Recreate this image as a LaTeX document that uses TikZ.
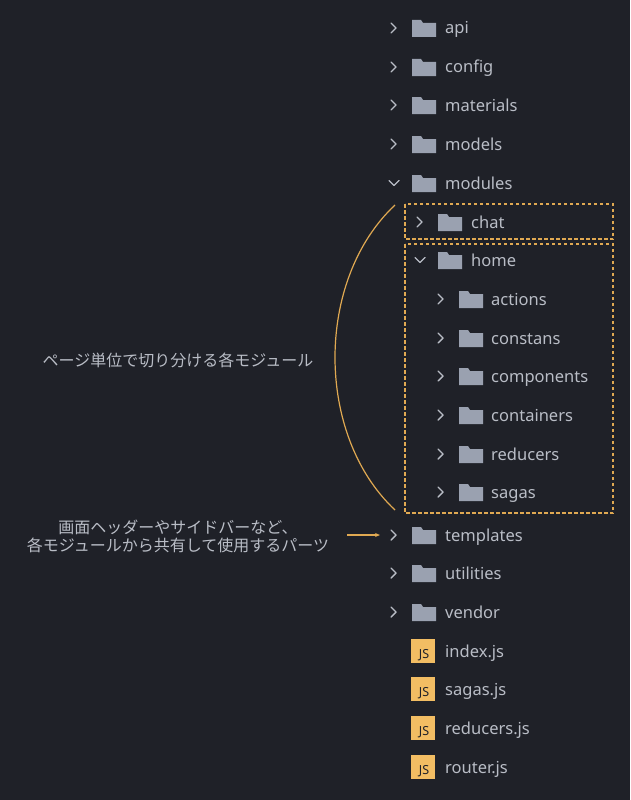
\documentclass[tikz,border=0pt]{standalone}
\usepackage{fontspec}
\setmainfont{Noto Sans}
\newfontfamily\cjk{Noto Sans CJK JP}
\usetikzlibrary{arrows.meta}
\definecolor{bg}{HTML}{1F2128}
\definecolor{txt}{HTML}{B9BDC6}
\definecolor{fold}{HTML}{9AA1B0}
\definecolor{acc}{HTML}{E0A952}
\definecolor{jsy}{HTML}{F2BD63}
\tikzset{
 lbl/.style={anchor=base west,text=txt,font=\fontsize{16.5}{19}\selectfont,inner sep=0pt,yshift=-6pt},
 chev/.style={draw=txt,line width=1.4pt,line cap=round,line join=round},
 box/.style={draw=acc,line width=1.2pt,dash pattern=on 3.5pt off 2.5pt},
 note/.style={text=txt,font=\cjk\fontsize{16}{18}\selectfont,align=center,inner sep=0pt}
}
\newcommand{\fold}[2]{% x y
 \fill[fold] (#1,#2-6) -- (#1,#2+9) -- (#1+24,#2+9) -- (#1+24,#2-5) -- (#1+11,#2-5) -- (#1+9,#2-8) -- (#1,#2-8) -- cycle;}
\newcommand{\cright}[2]{\draw[chev] (#1-3,#2-5) -- (#1+2,#2) -- (#1-3,#2+5);}
\newcommand{\cdown}[2]{\draw[chev] (#1-5,#2-2.5) -- (#1,#2+2.5) -- (#1+5,#2-2.5);}
\newcommand{\jsicon}[2]{\fill[jsy] (#1,#2-12) rectangle (#1+24,#2+12);
 \node[text=bg,font=\fontsize{12.5}{12.5}\selectfont\bfseries,inner sep=0pt] at (#1+13,#2+4) {JS};}
\begin{document}
\begin{tikzpicture}[x=1pt,y=-1pt]
\fill[bg] (0,0) rectangle (630,800);
\useasboundingbox (0,0) rectangle (630,800);
\foreach \y/\n/\t in {28/api/api,67/config/config,105/materials/materials,144/models/models,535/templates/templates,573/utilities/utilities,612/vendor/vendor}{
 \cright{394}{\y}\fold{412}{\y}\node[lbl] (\n) at (445,\y) {\t};}
\cdown{394}{183}\fold{412}{183}\node[lbl] (modules) at (445,183) {modules};
\cright{420}{222}\fold{438}{222}\node[lbl] (chat) at (471,222) {chat};
\cdown{420}{260}\fold{438}{260}\node[lbl] (home) at (471,260) {home};
\foreach \y/\n in {299/actions,338/constans,376/components,415/containers,454/reducers,492/sagas}{
 \cright{441}{\y}\fold{459}{\y}\node[lbl] (\n) at (491,\y) {\n};}
\foreach \y/\n/\t in {651/indexjs/index.js,689/sagasjs/sagas.js,728/reducersjs/reducers.js,767/routerjs/router.js}{
 \jsicon{411}{\y}\node[lbl] (\n) at (445,\y) {\t};}
\draw[box] (405,204) rectangle (613,239);
\draw[box] (405,244) rectangle (613,513);
\coordinate (a1) at (395,205);
\coordinate (a2) at (395,510);
\draw[acc,line width=1.2pt] (a1) .. controls (315,280) and (315,435) .. (a2);
\node[note] (n1) at (178,360) {ページ単位で切り分ける各モジュール};
\node[note] (n2) at (178,536) {画面ヘッダーやサイドバーなど、\\各モジュールから共有して使用するパーツ};
\coordinate (s) at (347,535);
\draw[acc,line width=1.2pt,-{Stealth[length=5pt,width=4pt]}] (s) -- (380,535);
\end{tikzpicture}
\end{document}
